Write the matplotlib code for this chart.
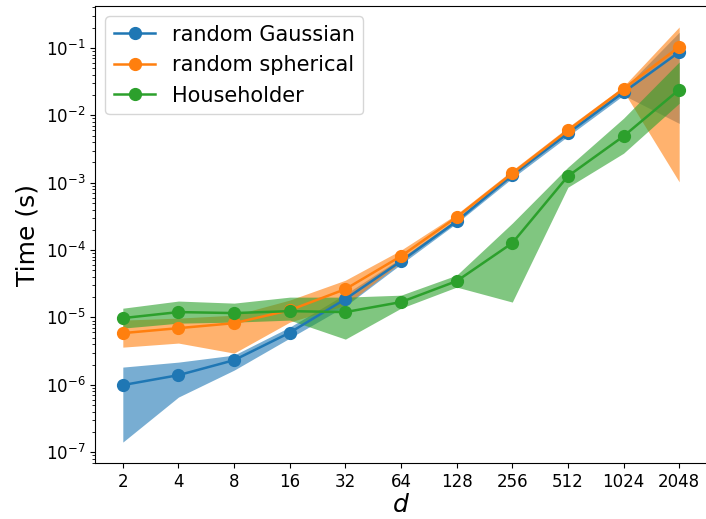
import numpy as np
import matplotlib
matplotlib.use("Agg")
import matplotlib.pyplot as plt

# dimensions d (x axis is evenly spaced, one slot per power of two)
dims = [2, 4, 8, 16, 32, 64, 128, 256, 512, 1024, 2048]

# mean time and shaded band (lower, upper), in seconds
gauss = [9.9e-7, 1.39e-6, 2.32e-6, 5.94e-6, 1.87e-5, 6.84e-5, 2.68e-4, 1.29e-3, 5.42e-3, 2.2e-2, 8.7e-2]
gauss_lo = [1.41e-7, 6.57e-7, 1.65e-6, 4.93e-6, 1.47e-5, 6.18e-5, 2.51e-4, 1.17e-3, 4.9e-3, 1.99e-2, 7.6e-3]
gauss_hi = [1.83e-6, 2.17e-6, 2.76e-6, 7.18e-6, 2.22e-5, 7.59e-5, 2.87e-4, 1.43e-3, 6.01e-3, 2.44e-2, 0.171]

spher = [5.85e-6, 6.93e-6, 8.22e-6, 1.28e-5, 2.63e-5, 8.11e-5, 3.08e-4, 1.38e-3, 6.01e-3, 2.48e-2, 0.104]
spher_lo = [3.62e-6, 4.16e-6, 2.95e-6, 8.51e-6, 1.52e-5, 6.61e-5, 2.78e-4, 1.25e-3, 5.42e-3, 2.28e-2, 1.03e-3]
spher_hi = [9.12e-6, 9.77e-6, 1.08e-5, 1.81e-5, 3.57e-5, 9.97e-5, 3.41e-4, 1.53e-3, 6.65e-3, 2.7e-2, 0.205]

house = [9.77e-6, 1.2e-5, 1.16e-5, 1.24e-5, 1.2e-5, 1.69e-5, 3.46e-5, 1.27e-4, 1.25e-3, 4.9e-3, 2.41e-2]
house_lo = [6.93e-6, 8.22e-6, 8.51e-6, 9.12e-6, 4.76e-6, 1.37e-5, 2.82e-5, 1.69e-5, 8.57e-4, 2.74e-3, 1.51e-2]
house_hi = [1.37e-5, 1.75e-5, 1.63e-5, 2.0e-5, 2.0e-5, 2.14e-5, 4.24e-5, 2.51e-4, 1.7e-3, 9.06e-3, 6.2e-2]

series = [
    ("random Gaussian", gauss, gauss_lo, gauss_hi, "tab:blue"),
    ("random spherical", spher, spher_lo, spher_hi, "tab:orange"),
    ("Householder", house, house_lo, house_hi, "tab:green"),
]

fig = plt.figure(figsize=(7.06, 5.19), dpi=100)
ax = fig.add_axes([95 / 706, 56 / 519, 612 / 706, 457 / 519])

x = np.arange(len(dims))
for name, mean, lo, hi, col in series:
    ax.plot(x, mean, "o-", color=col, label=name, lw=1.8, ms=8.5)
    ax.fill_between(x, lo, hi, color=col, alpha=0.6, lw=0)

ax.set_yscale("log")
ax.set_ylim(6.9e-8, 0.42)
ax.set_xlim(-0.5, len(dims) - 0.5)
ax.set_xticks(x)
ax.set_xticklabels([str(d) for d in dims])
ax.tick_params(labelsize=12)
ax.set_xlabel("$d$", fontsize=18, labelpad=2)
ax.set_ylabel("Time (s)", fontsize=18)
ax.legend(loc="upper left", fontsize=15)

fig.savefig("out.png", dpi=100)
